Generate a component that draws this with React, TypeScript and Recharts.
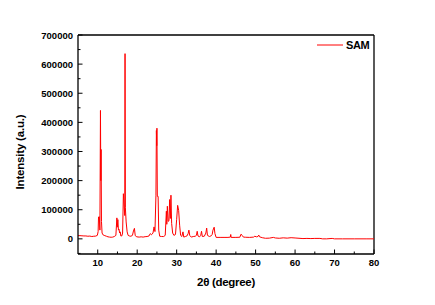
import React from "react";
import {
  LineChart,
  Line,
  XAxis,
  YAxis,
  ReferenceLine,
  Legend,
  Label,
} from "recharts";

const TWO_THETA = [
  5.0, 5.5, 6.0, 6.5, 7.0, 7.5, 8.0, 8.5, 9.0, 9.5, 9.9, 10.1, 10.2, 10.4, 10.55,
  10.69, 10.78, 10.85, 10.95, 11.1, 11.4, 11.8, 12.2, 12.6, 13.0, 13.4, 13.8,
  14.2, 14.6, 14.85, 14.95, 15.1, 15.25, 15.4, 15.55, 15.7, 15.85, 16.1, 16.3,
  16.5, 16.7, 16.85, 16.92, 17.0, 17.2, 17.45, 17.7, 18.0, 18.4, 18.8, 19.05,
  19.3, 19.5, 19.9, 20.5, 21.0, 21.5, 22.0, 22.5, 23.0, 23.3, 23.6, 24.0, 24.27,
  24.5, 24.75, 24.86, 24.95, 25.0, 25.1, 25.3, 25.45, 25.7, 26.2, 26.7, 27.1,
  27.39, 27.5, 27.64, 27.85, 28.05, 28.22, 28.4, 28.55, 28.73, 28.98, 29.3,
  29.7, 30.0, 30.25, 30.5, 30.75, 31.0, 31.3, 31.6, 31.8, 32.2, 32.6, 32.9,
  33.1, 33.3, 33.7, 34.2, 34.7, 35.0, 35.2, 35.4, 35.8, 36.1, 36.3, 36.5, 37.0,
  37.4, 37.6, 37.8, 38.3, 38.8, 39.0, 39.2, 39.5, 39.7, 40.0, 41.0, 42.0, 43.0,
  43.6, 43.7, 43.8, 45.0, 46.0, 46.3, 46.6, 46.9, 47.5, 48.5, 49.5, 49.8, 50.2,
  50.6, 50.8, 51.0, 51.7, 52.5, 53.5, 54.5, 55.0, 56.0, 57.0, 58.0, 59.0, 60.0,
  61.0, 62.0, 63.0, 64.0, 65.0, 66.3, 67.0, 68.0, 69.4, 70.0, 72.0, 75.0, 78.0,
  80.0,
];

const INTENSITY = [
  11000, 11000, 10500, 10000, 10000, 9000, 9500, 8000, 9000, 9500, 12000, 25000,
  75000, 76000, 30000, 441000, 200000, 307000, 60000, 20000, 13000, 11000, 9000,
  7000, 6000, 5500, 6000, 8000, 12000, 72000, 40000, 66000, 30000, 33000, 20000,
  24000, 10000, 10000, 20000, 155000, 110000, 80000, 636000, 107000, 58000,
  24000, 12000, 10000, 9000, 12000, 27000, 36000, 11000, 7000, 6000, 7000, 6000,
  7500, 8000, 10000, 18000, 14000, 20000, 41000, 25000, 150000, 372000, 320000,
  380000, 146000, 146000, 30000, 9000, 8000, 8000, 12000, 95000, 50000, 112000,
  60000, 62000, 135000, 70000, 150000, 53000, 20000, 12000, 15000, 67000,
  115000, 98000, 47000, 12000, 8000, 24000, 6000, 8000, 10000, 18000, 30000,
  12000, 6000, 8000, 9000, 12000, 26000, 10000, 7000, 12000, 26000, 8000, 9000,
  20000, 37000, 12000, 8000, 11000, 15000, 30000, 40000, 18000, 5000, 5000,
  5000, 5000, 6000, 15000, 5000, 5000, 5500, 16000, 12000, 6000, 5500, 5000,
  6000, 9000, 7000, 8000, 13000, 7000, 4000, 2000, 2500, 5000, 3000, 2000, 3500,
  2500, 4000, 3000, 2000, 1000, 1500, 1000, 1500, 1500, 0, 0, 1500, 0, 0, 0, 0,
  0,
];

const X_TICKS = [10, 15, 20, 25, 30, 35, 40, 45, 50, 55, 60, 65, 70, 75, 80];
const Y_TICKS = [
  -50000, 0, 50000, 100000, 150000, 200000, 250000, 300000, 350000, 400000,
  450000, 500000, 550000, 600000, 650000, 700000,
];

const SERIES_NAME = "SAM";

const data = TWO_THETA.map((x, i) => ({ x, y: INTENSITY[i] }));

const FONT = "'Liberation Sans', Arial, sans-serif";
const RED = "#ff0000";

function XTick({ x, y, payload }: any) {
  const major = payload.value % 10 === 0;
  return (
    <g>
      <line x1={x} x2={x} y1={y} y2={y - (major ? 4.5 : 2.5)} stroke="#000" strokeWidth={1} />
      {major && (
        <text
          x={x}
          y={y + 12}
          textAnchor="middle"
          fontFamily={FONT}
          fontWeight="bold"
          fontSize={9.5}
          fill="#000"
        >
          {payload.value}
        </text>
      )}
    </g>
  );
}

function YTick({ x, y, payload }: any) {
  const major = payload.value % 100000 === 0;
  return (
    <g>
      <line x1={x} x2={x + (major ? 4.5 : 2.5)} y1={y} y2={y} stroke="#000" strokeWidth={1} />
      {major && (
        <text
          x={x - 5}
          y={y + 3.5}
          textAnchor="end"
          fontFamily={FONT}
          fontWeight="bold"
          fontSize={9.5}
          fill="#000"
        >
          {payload.value}
        </text>
      )}
    </g>
  );
}

function LegendBox() {
  return (
    <svg width={60} height={14} style={{ display: "block" }}>
      <line x1={0} x2={26} y1={7} y2={7} stroke={RED} strokeWidth={1} />
      <text
        x={29}
        y={11}
        fontFamily={FONT}
        fontWeight="bold"
        fontSize={11}
        letterSpacing={-0.4}
        fill="#000"
      >
        {SERIES_NAME}
      </text>
    </svg>
  );
}

export default function App() {
  return (
    <div style={{ position: "absolute", left: 0, top: 0 }}>
      <LineChart
        width={435}
        height={305}
        data={data}
        margin={{ top: 35, right: 61, left: 0, bottom: 0 }}
      >
        <XAxis
          dataKey="x"
          type="number"
          domain={[5, 80]}
          ticks={X_TICKS}
          interval={0}
          height={51}
          tickSize={0}
          tickMargin={0}
          tickLine={false}
          tick={<XTick />}
          axisLine={{ stroke: "#000", strokeWidth: 1.3 }}
        >
          <Label
            content={({ viewBox }: any) => (
              <text
                x={viewBox.x + viewBox.width / 2}
                y={viewBox.y + 31.5}
                textAnchor="middle"
                fontFamily={FONT}
                fontWeight="bold"
                fontSize={11.5}
                letterSpacing={-0.3}
                fill="#000"
              >
                2θ (degree)
              </text>
            )}
          />
        </XAxis>
        <YAxis
          type="number"
          domain={[-52000, 700000]}
          ticks={Y_TICKS}
          interval={0}
          width={78}
          tickSize={0}
          tickMargin={0}
          tickLine={false}
          tick={<YTick />}
          axisLine={{ stroke: "#000", strokeWidth: 1.3 }}
        >
          <Label
            content={({ viewBox }: any) => {
              const cx = viewBox.x + 20;
              const cy = 152;
              return (
                <text
                  x={cx}
                  y={cy}
                  transform={`rotate(-90 ${cx} ${cy})`}
                  textAnchor="middle"
                  dominantBaseline="central"
                  fontFamily={FONT}
                  fontWeight="bold"
                  fontSize={11.5}
                  letterSpacing={-0.2}
                  fill="#000"
                >
                  Intensity (a.u.)
                </text>
              );
            }}
          />
        </YAxis>
        <ReferenceLine y={700000} stroke="#000" strokeWidth={1.3} />
        <ReferenceLine x={80} stroke="#000" strokeWidth={1.3} />
        <Legend
          layout="horizontal"
          verticalAlign="middle"
          align="center"
          wrapperStyle={{ top: 38, left: 317, width: 60, height: 14 }}
          content={() => <LegendBox />}
        />
        <Line
          type="linear"
          dataKey="y"
          name={SERIES_NAME}
          stroke={RED}
          strokeWidth={1}
          dot={false}
          activeDot={false}
          isAnimationActive={false}
        />
      </LineChart>
    </div>
  );
}
